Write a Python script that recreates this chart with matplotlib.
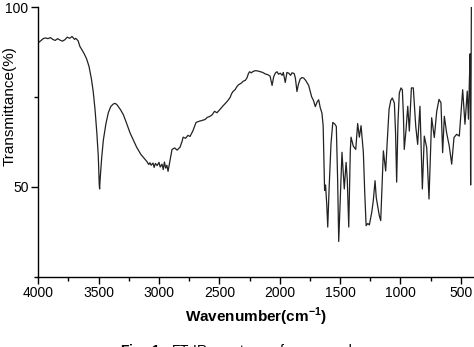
import numpy as np
import matplotlib
matplotlib.use("Agg")
import matplotlib.pyplot as plt
from matplotlib.ticker import MultipleLocator

plt.rcParams['font.family'] = ['Liberation Sans', 'DejaVu Sans']
plt.rcParams['mathtext.fontset'] = 'custom'
plt.rcParams['mathtext.rm'] = 'Liberation Sans'
plt.rcParams['mathtext.bf'] = 'Liberation Sans:bold'

# FT-IR spectrum (wavenumber in cm-1, transmittance in %)
wavenumber = [4000, 3980, 3960, 3940, 3920, 3900, 3880, 3860, 3840, 3820,
              3800, 3780, 3760, 3740, 3720, 3700, 3690, 3670, 3655, 3640,
              3620, 3600, 3580, 3560, 3545, 3530, 3515, 3503, 3495, 3492,
              3488, 3475, 3461, 3440, 3420, 3400, 3380, 3365, 3350, 3320,
              3296, 3270, 3240, 3210, 3185, 3150, 3120, 3102, 3085, 3075,
              3065, 3050, 3040, 3030, 3015, 3000, 2990, 2975, 2965, 2955,
              2945, 2935, 2925, 2910, 2892, 2870, 2850, 2826, 2810, 2800,
              2780, 2760, 2743, 2720, 2693, 2670, 2640, 2619, 2600, 2578,
              2560, 2540, 2520, 2495, 2470, 2450, 2429, 2410, 2400, 2387,
              2370, 2354, 2340, 2320, 2300, 2285, 2271, 2260, 2250, 2235,
              2220, 2200, 2180, 2160, 2140, 2120, 2100, 2080, 2063, 2050,
              2035, 2022, 2010, 1995, 1980, 1970, 1954, 1940, 1925, 1910,
              1898, 1880, 1870, 1857, 1845, 1830, 1815, 1800, 1785, 1774,
              1760, 1747, 1735, 1720, 1705, 1690, 1677, 1664, 1650, 1640,
              1634, 1628, 1620, 1610, 1602, 1590, 1575, 1560, 1545, 1531,
              1520, 1511, 1500, 1484, 1465, 1450, 1440, 1428, 1415, 1409,
              1390, 1370, 1354, 1340, 1326, 1307, 1295, 1284, 1270, 1257,
              1237, 1225, 1210, 1200, 1191, 1175, 1163, 1141, 1122, 1110,
              1094, 1080, 1067, 1050, 1040, 1031, 1020, 1009, 995, 984,
              975, 968, 953, 939, 926, 909, 893, 873, 857, 838,
              818, 802, 782, 763, 741, 719, 699, 680, 664, 650,
              636, 617, 595, 575, 556, 534, 512, 484, 465, 446,
              436, 428, 422, 418, 412]

transmittance = [90.1, 90.6, 91.2, 91.4, 91.2, 91.5, 91.0, 90.7, 91.2, 90.8,
                 90.5, 90.9, 91.6, 91.3, 91.8, 91.0, 91.3, 90.6, 89.0, 88.2,
                 87.0, 85.6, 83.5, 80.0, 76.5, 71.5, 65.0, 58.5, 50.5, 49.4,
                 52.0, 58.0, 63.0, 67.5, 70.6, 72.3, 73.0, 73.2, 72.9, 71.5,
                 70.1, 67.8, 65.0, 62.8, 61.0, 59.0, 57.8, 57.1, 56.2, 56.7,
                 56.0, 56.6, 55.4, 56.5, 55.9, 56.8, 55.5, 56.3, 54.8, 56.9,
                 55.2, 56.0, 54.3, 57.0, 60.4, 60.8, 60.2, 61.0, 62.5, 63.8,
                 63.5, 64.3, 64.0, 65.5, 67.9, 68.2, 68.5, 68.7, 69.3, 69.6,
                 70.0, 71.0, 70.6, 71.5, 72.5, 73.2, 74.0, 74.9, 75.8, 76.5,
                 77.0, 77.9, 78.4, 78.8, 79.4, 79.6, 80.3, 81.4, 82.0, 81.7,
                 82.1, 82.3, 82.2, 82.0, 81.8, 81.4, 81.2, 80.8, 78.2, 80.6,
                 81.7, 82.0, 81.3, 81.6, 81.0, 81.8, 79.0, 81.8, 81.6, 81.0,
                 81.7, 81.5, 80.2, 76.5, 78.5, 80.0, 80.4, 80.2, 79.6, 79.0,
                 78.2, 76.5, 75.0, 74.0, 72.3, 73.6, 74.2, 72.0, 70.5, 67.0,
                 58.0, 49.0, 50.5, 45.0, 38.8, 50.0, 62.0, 67.9, 67.5, 66.8,
                 52.0, 34.8, 45.0, 59.6, 49.4, 56.8, 52.0, 38.8, 60.0, 63.8,
                 61.3, 60.4, 67.6, 63.8, 67.0, 59.6, 48.0, 39.2, 39.8, 39.4,
                 43.0, 46.0, 51.7, 47.0, 45.2, 42.0, 40.6, 60.0, 54.4, 62.0,
                 71.5, 74.0, 74.7, 73.3, 65.0, 51.3, 68.0, 76.1, 77.5, 77.0,
                 70.0, 60.4, 66.0, 72.4, 65.5, 77.5, 77.5, 66.9, 61.8, 72.4,
                 49.4, 64.1, 60.9, 46.6, 69.2, 63.7, 71.0, 74.3, 73.4, 59.5,
                 69.6, 65.0, 61.3, 56.3, 63.7, 64.6, 64.1, 77.0, 67.4, 76.6,
                 68.8, 80.0, 87.0, 50.5, 100.0]

fig = plt.figure(figsize=(4.74, 3.47), dpi=100)
ax = fig.add_axes([0.0808, 0.2026, 0.9167, 0.7772])

ax.plot(wavenumber, transmittance, color="#222222", lw=0.9)

ax.set_xlim(4000, 400)
ax.set_ylim(25, 100)
ax.set_xticks([4000, 3500, 3000, 2500, 2000, 1500, 1000, 500])
ax.xaxis.set_minor_locator(MultipleLocator(250))
ax.set_yticks([50, 100])
ax.yaxis.set_minor_locator(MultipleLocator(25))

for s in ["top", "right"]:
    ax.spines[s].set_visible(False)
for s in ["left", "bottom"]:
    ax.spines[s].set_linewidth(1.0)

ax.tick_params(axis="both", which="major", direction="out", length=5, width=1,
               labelsize=10, pad=2)
ax.tick_params(axis="both", which="minor", direction="out", length=3, width=1)

ax.set_xlabel(r"Wavenumber(cm$^{\mathbf{-1}}$)", fontsize=11, fontweight="bold",
              labelpad=4)
fig.text(0.021, 0.695, "Transmittance(%)", fontsize=11, rotation=90,
         ha="center", va="center")

# caption, mostly cut off at the bottom edge like the source
fig.text(0.253, 0.014, r"$\mathbf{Fig.\ 1}$   FT-IR spectrum of compound",
         fontsize=10, va="top", ha="left")

fig.savefig("out.png", dpi=100)
